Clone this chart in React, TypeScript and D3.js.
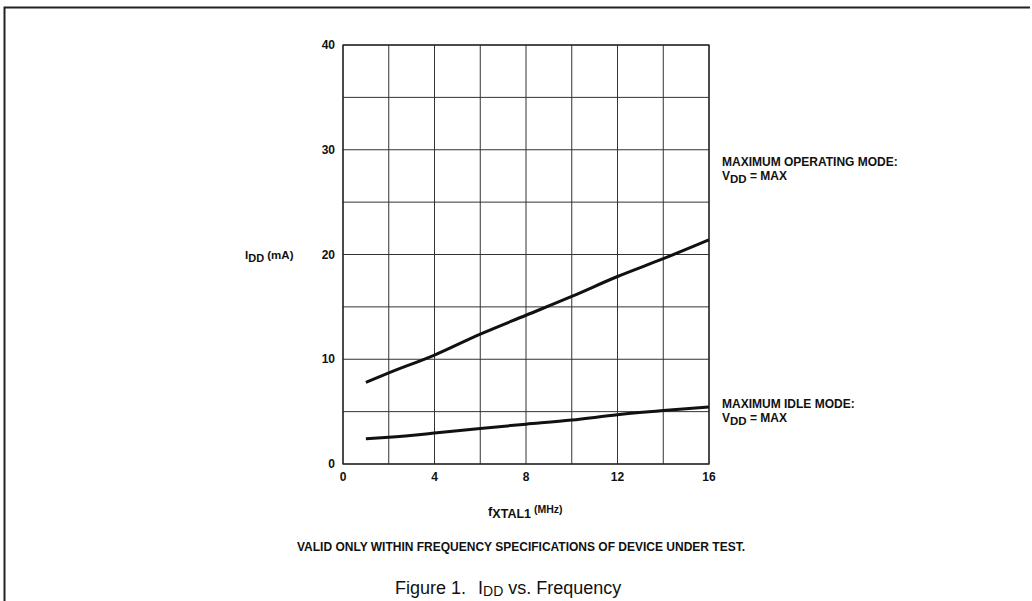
import React from 'react';
import * as d3 from 'd3';

// frequency (MHz) sample points
const freq = [1, 2, 4, 6, 8, 10, 12, 14, 16];
const operatingMode = [7.8, 8.7, 10.4, 12.4, 14.2, 16.0, 17.9, 19.6, 21.4];
const idleMode = [2.4, 2.55, 2.95, 3.4, 3.8, 4.2, 4.7, 5.1, 5.45];

const xTicks = [0, 4, 8, 12, 16];
const yTicks = [0, 10, 20, 30, 40];
const xGrid = [0, 2, 4, 6, 8, 10, 12, 14, 16];
const yGrid = [0, 5, 10, 15, 20, 25, 30, 35, 40];

const font = '"Liberation Sans", Arial, Helvetica, sans-serif';

export default function App() {
  const width = 1032;
  const height = 601;
  const plot = { left: 343, right: 709, top: 45, bottom: 464 };

  const x = d3.scaleLinear().domain([0, 16]).range([plot.left, plot.right]);
  const y = d3.scaleLinear().domain([0, 40]).range([plot.bottom, plot.top]);

  const line = d3
    .line<number>()
    .x((_, i) => x(freq[i]))
    .y((d) => y(d))
    .curve(d3.curveMonotoneX);

  return (
    <svg
      width={width}
      height={height}
      style={{ position: 'absolute', left: 0, top: 0, background: '#fff' }}
      fontFamily={font}
    >
      <rect width={width} height={height} fill="#fff" />
      {/* page frame */}
      <path d={`M4.5,${height} V7.5 H1030`} fill="none" stroke="#222" strokeWidth={2} />

      {/* grid */}
      {xGrid.map((g) => (
        <line key={'vx' + g} x1={x(g)} x2={x(g)} y1={plot.top} y2={plot.bottom} stroke="#333" strokeWidth={1} />
      ))}
      {yGrid.map((g) => (
        <line key={'hy' + g} x1={plot.left} x2={plot.right} y1={y(g)} y2={y(g)} stroke="#333" strokeWidth={1} />
      ))}
      <rect
        x={plot.left}
        y={plot.top}
        width={plot.right - plot.left}
        height={plot.bottom - plot.top}
        fill="none"
        stroke="#222"
        strokeWidth={1.3}
      />

      {/* tick labels */}
      {yTicks.map((t) => (
        <text key={'yt' + t} x={335} y={y(t) + 4} textAnchor="end" fontSize={12} fontWeight="bold" fill="#111">
          {t}
        </text>
      ))}
      {xTicks.map((t) => (
        <text key={'xt' + t} x={x(t)} y={481} textAnchor="middle" fontSize={12} fontWeight="bold" fill="#111">
          {t}
        </text>
      ))}

      {/* curves */}
      <path d={line(operatingMode) || ''} fill="none" stroke="#111" strokeWidth={3} />
      <path d={line(idleMode) || ''} fill="none" stroke="#111" strokeWidth={3} />

      {/* y axis label */}
      <text x={245} y={259} fontSize={11.5} fontWeight="bold" fill="#111">
        I
        <tspan fontSize={11} dy={3}>DD</tspan>
        <tspan dy={-3}> (mA)</tspan>
      </text>

      {/* series labels */}
      <g fontSize={12} fontWeight="bold" fill="#111">
        <text x={722} y={166}>MAXIMUM OPERATING MODE:</text>
        <text x={722} y={180}>
          V<tspan fontSize={11.5} dy={3}>DD</tspan>
          <tspan dy={-3}> = MAX</tspan>
        </text>
        <text x={722} y={408}>MAXIMUM IDLE MODE:</text>
        <text x={722} y={422}>
          V<tspan fontSize={11.5} dy={3}>DD</tspan>
          <tspan dy={-3}> = MAX</tspan>
        </text>
      </g>

      {/* x axis label */}
      <text x={488} y={516} fontSize={13} fontWeight="bold" fill="#111">
        f<tspan fontSize={12.5} dy={2}>XTAL1</tspan>
        <tspan fontSize={10.5} dy={-5}> (MHz)</tspan>
      </text>

      <text x={521} y={551} textAnchor="middle" fontSize={12} fontWeight="bold" fill="#111">
        VALID ONLY WITHIN FREQUENCY SPECIFICATIONS OF DEVICE UNDER TEST.
      </text>

      {/* caption */}
      <text x={395} y={594} fontSize={18} fill="#111">
        Figure 1.
        <tspan x={478}>I</tspan>
        <tspan fontSize={14} dy={2}>DD</tspan>
        <tspan dy={-2}> vs. Frequency</tspan>
      </text>
    </svg>
  );
}
